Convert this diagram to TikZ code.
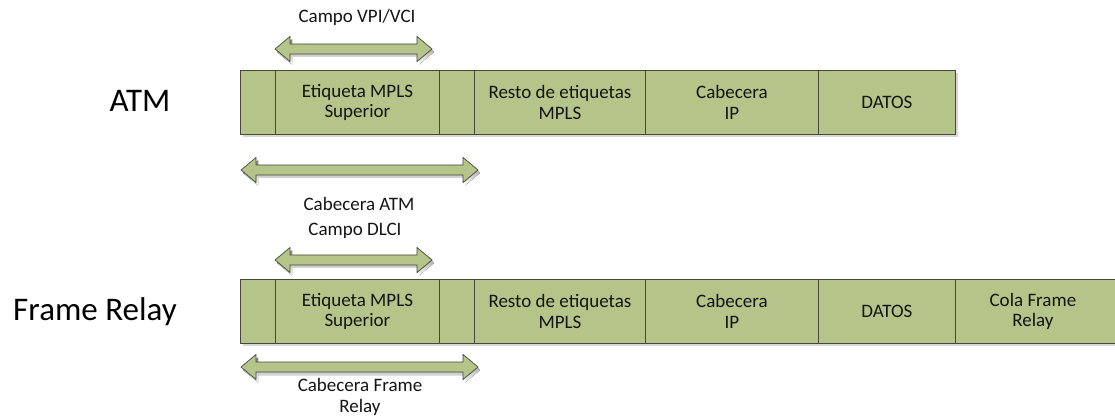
\documentclass[tikz,border=0pt]{standalone}
\usepackage{fontspec}
\setmainfont{Carlito}
\definecolor{cellfill}{RGB}{181,196,136}
\definecolor{cellline}{RGB}{70,72,60}
\definecolor{shade}{RGB}{215,215,215}
\definecolor{ink}{RGB}{20,20,20}
\newcommand\dblarrow[4]{% name, x-left, x-right, y-centre
  \fill[shade] ($(#2,#4)+(2,3)$) -- ++(15,-12.5) -- ++(0,7.5) -- ($(#3,#4)+(-13,-2)$) -- ++(0,-7.5) -- ++(15,12.5) -- ++(-15,12.5) -- ++(0,-7.5) -- ($(#2,#4)+(17,8)$) -- ++(0,7.5) -- cycle;
  \draw[arrowbody] (#2,#4) coordinate (#1-l) -- ++(15,-12.5) -- ++(0,7.5) -- ($(#3,#4)+(-15,-5)$) -- ++(0,-7.5) -- (#3,#4) coordinate (#1-r) -- ++(-15,12.5) -- ++(0,-7.5) -- ($(#2,#4)+(15,5)$) -- ++(0,7.5) -- cycle;}
\begin{document}
\begin{tikzpicture}[x=1pt,y=-1pt,
  cell/.style={draw=cellline, fill=cellfill, line width=0.8pt, anchor=north west,
    minimum height=64pt, inner sep=0pt, align=center, text=ink,
    font=\fontsize{19}{20.5}\selectfont},
  cellshadow/.style={fill=shade},
  arrowbody/.style={draw=cellline, fill=cellfill, line width=0.7pt, line join=miter},
  lbl/.style={text=ink, align=center, inner sep=0pt, font=\fontsize{19}{21}\selectfont},
  rowname/.style={text=black, inner sep=0pt, font=\fontsize{33}{38}\selectfont}]
\useasboundingbox (0,0) rectangle (1115,419);
\usetikzlibrary{calc}

% ---------- ATM ----------
\fill[cellshadow] (243,73) rectangle (958,137);
\node[cell, minimum width=35pt]  (a0) at (240,70) {};
\node[cell, minimum width=164pt] (a1) at (275,70) {Etiqueta MPLS\\Superior};
\node[cell, minimum width=35pt]  (a2) at (439,70) {};
\node[cell, minimum width=171pt] (a3) at (474,70) {Resto de etiquetas\\MPLS};
\node[cell, minimum width=173pt] (a4) at (645,70) {Cabecera\\IP};
\node[cell, minimum width=137pt] (a5) at (818,70) {DATOS};
\node[rowname] (atm) at (140,101) {ATM};

\dblarrow{vpi}{275}{432}{49}
\node[lbl] (vpilbl) at (357,17) {Campo VPI/VCI};
\dblarrow{atmh}{241}{478}{170}
\node[lbl] (atmlbl) at (359,204) {Cabecera ATM};

% ---------- Frame Relay ----------
\fill[cellshadow] (243,282) rectangle (1120,346);
\node[cell, minimum width=35pt]  (f0) at (240,279) {};
\node[cell, minimum width=164pt] (f1) at (275,279) {Etiqueta MPLS\\Superior};
\node[cell, minimum width=35pt]  (f2) at (439,279) {};
\node[cell, minimum width=171pt] (f3) at (474,279) {Resto de etiquetas\\MPLS};
\node[cell, minimum width=173pt] (f4) at (645,279) {Cabecera\\IP};
\node[cell, minimum width=137pt] (f5) at (818,279) {DATOS};
\node[cell, minimum width=165pt] (f6) at (955,279) {\hspace*{-10pt}Cola Frame\\\hspace*{-10pt}Relay};
\node[rowname] (fr) at (95,312) {Frame Relay};

\dblarrow{dlci}{275}{432}{260}
\node[lbl] (dlcilbl) at (355,231) {Campo DLCI};
\dblarrow{frh}{241}{478}{367}
\node[lbl] (frlbl) at (360,397) {Cabecera Frame\\Relay};
\end{tikzpicture}
\end{document}
